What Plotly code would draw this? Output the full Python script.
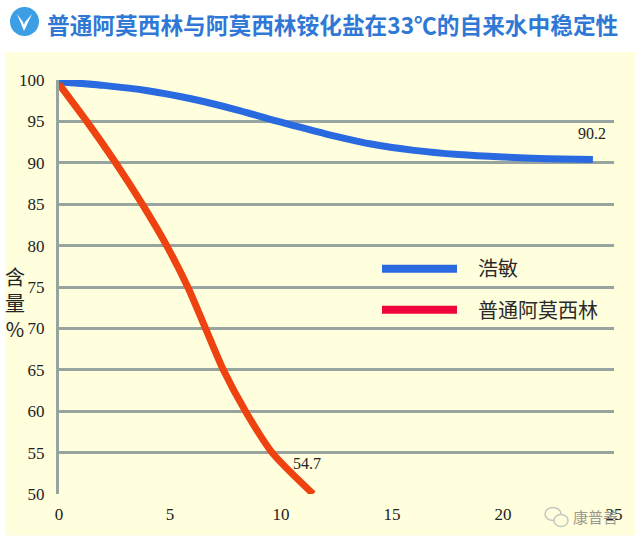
import plotly.graph_objects as go

W, H = 640, 545
L, R, T, B = 59, 26, 80, 50.5
title = "普通阿莫西林与阿莫西林铵化盐在33℃的自来水中稳定性"
blue_name = "浩敏"
red_name = "普通阿莫西林"
blue_x = [0, 2, 4, 6, 8, 10, 12, 14, 16, 18, 20, 22, 24.05]
blue_y = [99.8, 99.35, 98.7, 97.7, 96.4, 94.9, 93.5, 92.3, 91.5, 91.0, 90.7, 90.5, 90.4]
red_x = [0, 1.25, 2.55, 3.75, 4.85, 5.8, 6.6, 7.4, 8.4, 9.6, 11.45]
red_y = [99.5, 95, 90, 85, 80, 75, 70, 65, 60, 55, 50]
x_ticks = [0, 5, 10, 15, 20, 25]
y_ticks = [50, 55, 60, 65, 70, 75, 80, 85, 90, 95, 100]
labels = [("90.2", 592, 134), ("54.7", 307, 464)]

def px(x): return (x - L) / (W - L - R)
def py(y): return 1 - (y - T) / (H - T - B)

fig = go.Figure()
fig.add_trace(go.Scatter(x=blue_x, y=blue_y, mode="lines", name=blue_name, cliponaxis=False,
                         line=dict(color="#2a6ae0", width=7, shape="spline", smoothing=0.7), showlegend=False))
fig.add_trace(go.Scatter(x=red_x, y=red_y, mode="lines", name=red_name, cliponaxis=False,
                         line=dict(color="#ee4210", width=7, shape="spline", smoothing=0.7), showlegend=False))

def ps(**k):
    return dict(xref="paper", yref="paper", **k)

BG = "#fffedd"
shapes = [
    ps(type="rect", x0=px(5), x1=px(635), y0=py(536), y1=py(52),
       fillcolor=BG, line_width=0, layer="below"),
    ps(type="circle", x0=px(10), x1=px(39), y0=py(36), y1=py(7),
       fillcolor="#3c9fe6", line_width=0),
    ps(type="path",
       path=f"M {px(17)} {py(14)} L {px(24)} {py(31)} L {px(32)} {py(14)} L {px(25)} {py(22)} L {px(24)} {py(25)} L {px(23)} {py(22)} Z",
       fillcolor="#ffffff", line_width=0),
    ps(type="line", x0=px(382), x1=px(457), y0=py(269), y1=py(269),
       line=dict(color="#2a6ae0", width=8)),
    ps(type="line", x0=px(382), x1=px(457), y0=py(310), y1=py(310),
       line=dict(color="#f0053c", width=8)),
    ps(type="circle", x0=px(545), x1=px(561), y0=py(521), y1=py(508),
       line=dict(color="#c4c8c0", width=1.5)),
    ps(type="circle", x0=px(554), x1=px(568), y0=py(527), y1=py(515),
       fillcolor=BG, line=dict(color="#c4c8c0", width=1.5)),
]

def note(text, x, y, family, size, color, anchor="center", weight=None):
    return dict(text=text, xref="paper", yref="paper", x=px(x), y=py(y), xanchor=anchor, yanchor="middle",
                showarrow=False, font=dict(family=family, size=size, color=color, weight=weight))

annotations = [
    note(title, 45, 24, "Noto Sans CJK SC", 22.7, "#2f78d6", "left", "bold"),
    note(blue_name, 476, 268, "Noto Sans CJK SC", 20, "#2a2a2a", "left"),
    note(red_name, 476, 310, "Noto Sans CJK SC", 20, "#2a2a2a", "left"),
    note("含<br>量<br>%", 15, 303, "Noto Sans CJK SC", 20, "#222222"),
    note("康普善", 595, 517, "Noto Sans CJK SC", 15, "#9a9a90"),
]
for t, ax, ay in labels:
    annotations.append(note(t, ax, ay, "Liberation Serif", 16, "#222222"))

fig.update_layout(
    width=W, height=H, autosize=False,
    margin=dict(l=L, r=R, t=T, b=B),
    paper_bgcolor="#ffffff", plot_bgcolor="rgba(0,0,0,0)",
    showlegend=False,
    shapes=shapes, annotations=annotations,
    xaxis=dict(range=[0, 25], tickvals=x_ticks, ticktext=[str(v) for v in x_ticks], showgrid=False,
               zeroline=False, showline=False, ticks="", automargin=False, ticklabelstandoff=8,
               tickfont=dict(family="Liberation Serif", size=17, color="#222222")),
    yaxis=dict(range=[50, 100], tickvals=y_ticks, ticktext=[str(v) for v in y_ticks], showgrid=True,
               gridcolor="#98a4a0", gridwidth=3, zeroline=False, showline=True, linecolor="#98a4a0",
               linewidth=3, ticks="", automargin=False, ticklabelstandoff=8,
               tickfont=dict(family="Liberation Serif", size=17, color="#222222")),
)
fig.write_html("out.html", config=dict(displayModeBar=False),
               post_script="document.body.style.margin='0';document.documentElement.style.overflow='hidden';")
